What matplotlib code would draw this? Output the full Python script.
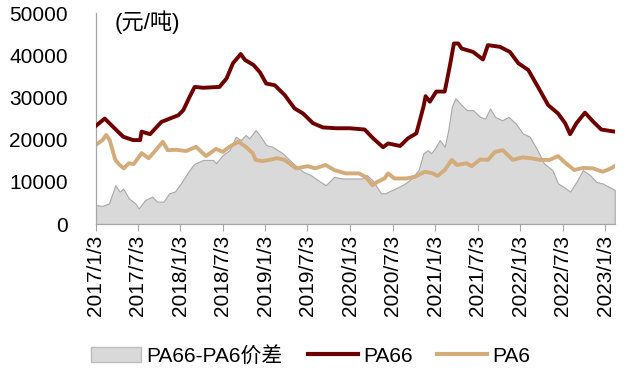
import pandas as pd
import matplotlib
matplotlib.use("Agg")
import matplotlib.pyplot as plt
from matplotlib.patches import Patch
from matplotlib.lines import Line2D

plt.rcParams["font.family"] = ["Liberation Sans", "Noto Sans CJK SC"]

# Months after 2017/1/3 and prices (元/吨)
pa66_m = [0, 1.3, 2.5, 3.9, 5.3, 6.3, 6.5, 7.7, 9.3, 10.5, 11.7, 12.4, 13.3, 14, 15.2,
          17.5, 18.5, 19.4, 20.5, 21.1, 22.3, 23.2, 24.1, 25.3, 26.7, 28.1, 29.3, 30.7,
          32.1, 34, 35.9, 38, 39.2, 40.6, 41.3, 43, 44.1, 45.3, 46.3, 46.6, 47.2, 48.1,
          49.3, 50, 50.6, 51.2, 51.7, 53.3, 54.7, 55.4, 57.1, 58.5, 59.7, 61.1, 62.7,
          63.9, 65.3, 66.3, 67, 67.9, 69.1, 70.3, 71.4, 73.3]
pa66 = [23200, 25000, 23000, 20700, 19900, 19900, 21900, 21300, 24200, 25000, 25800,
        27000, 30200, 32500, 32300, 32500, 34500, 38100, 40300, 38900, 37700, 36000,
        33300, 32900, 30600, 27400, 26200, 23900, 22900, 22700, 22700, 22400, 20300,
        18200, 19100, 18500, 20300, 21500, 27800, 30300, 29000, 31400, 31400, 37300,
        42800, 42800, 41600, 40800, 39000, 42400, 42000, 40800, 38100, 36500, 31800,
        28200, 26200, 23900, 21300, 23900, 26400, 24200, 22400, 21900]

pa6_m = [0, 1, 1.5, 2, 2.8, 3.4, 4, 4.7, 5.4, 6.5, 7.5, 8.3, 9.5, 10.2, 11.4, 12.8,
         14.2, 15.6, 17, 18, 18.9, 20.2, 21.2, 22.2, 22.6, 23.6, 24.5, 25.6, 26.7,
         28.3, 30, 31, 32.5, 33.7, 35.3, 37.2, 38.1, 39.1, 39.8, 40.8, 41.3, 42.2,
         43.9, 45.1, 46.5, 47.6, 48.3, 49.3, 50.3, 51, 52.4, 53.1, 54.3, 55.4, 56.4,
         57.5, 58.9, 60.3, 61.5, 62.7, 64.1, 65.3, 66.4, 67.6, 68.8, 70.2, 71.6, 72.5,
         73.3]
pa6 = [18700, 19900, 21100, 19900, 15200, 14000, 13200, 14400, 14200, 16800, 15600,
       17100, 19500, 17500, 17600, 17300, 18300, 16100, 17800, 17100, 18300, 19500,
       18300, 16800, 15200, 14900, 15200, 15600, 15200, 13200, 13700, 13200, 14000,
       12800, 12000, 12000, 11200, 9200, 10000, 10800, 12000, 10800, 10800, 11200,
       12400, 12000, 11400, 12800, 15200, 14000, 14400, 13700, 15300, 15200, 17100,
       17500, 15200, 15800, 15600, 15200, 15200, 16100, 14400, 12800, 13300, 13200,
       12400, 13000, 13700]

spread_m = [0, 1, 1.9, 2.8, 3.4, 3.9, 4.7, 5.6, 6.1, 7, 8, 8.7, 9.6, 10.4, 11.2, 12.2,
            13.1, 13.9, 15.2, 16.6, 17, 18, 18.9, 19.8, 20.5, 21.2, 21.7, 22.6, 23.2,
            24.1, 25, 26.4, 27.9, 29.3, 30.4, 31.4, 32.5, 33.7, 34.8, 36.2, 37.6, 38.3,
            39.1, 40.3, 40.9, 41.8, 42.8, 43.7, 44.6, 45.6, 46.3, 46.9, 47.4, 47.9,
            48.6, 49.3, 49.8, 50.3, 50.8, 51.7, 52.4, 53.3, 54.3, 55, 55.7, 56.4, 57.4,
            58.3, 59.3, 60.3, 61.3, 62.4, 63.3, 64.5, 65.3, 66.1, 67, 67.9, 68.8, 69.8,
            70.7, 71.6, 72.5, 73.3]
spread = [4500, 4300, 4900, 9200, 7700, 8400, 6100, 4900, 3700, 5700, 6500, 5300, 5300,
          7300, 7700, 10000, 12400, 14200, 15200, 15200, 14400, 16400, 17500, 20700,
          19900, 21100, 20300, 22300, 21000, 18700, 18300, 16800, 14400, 12400, 11600,
          10400, 9200, 11200, 10800, 10800, 10800, 11600, 10400, 7300, 7300, 8000, 8800,
          9600, 10800, 12800, 16800, 17500, 16800, 17900, 19900, 18300, 22300, 27800,
          29800, 28200, 27000, 27000, 25400, 25000, 27400, 25400, 24600, 25400, 23900,
          21500, 20700, 17500, 14400, 12800, 9600, 8800, 7700, 10000, 12800, 11600,
          10000, 9600, 8800, 8100]

tick_dates = ["2017/1/3", "2017/7/3", "2018/1/3", "2018/7/3", "2019/1/3", "2019/7/3",
              "2020/1/3", "2020/7/3", "2021/1/3", "2021/7/3", "2022/1/3", "2022/7/3",
              "2023/1/3"]

start = pd.Timestamp("2017-01-03")


def to_dates(months):
    return [start + pd.Timedelta(days=m * 30.44) for m in months]


c_spread = "#D9D9D9"
c_pa66 = "#6E0000"
c_pa6 = "#D3AC7A"

fig = plt.figure(figsize=(6.41, 3.74), dpi=100)
ax = fig.add_axes([0.149, 0.401, 0.810, 0.564])

ax.fill_between(to_dates(spread_m), spread, 0, facecolor=c_spread,
                edgecolor="#A8A8A8", linewidth=0.8, zorder=1)
ax.plot(to_dates(pa66_m), pa66, color=c_pa66, linewidth=2.8, zorder=3)
ax.plot(to_dates(pa6_m), pa6, color=c_pa6, linewidth=2.8, zorder=2)

ax.set_ylim(0, 50000)
ax.set_yticks(range(0, 50001, 10000))
ax.set_xlim(start, to_dates([73.3])[0])
ticks = [pd.Timestamp(d.replace("/", "-")) for d in tick_dates]
ax.set_xticks(ticks)
ax.set_xticklabels(tick_dates, rotation=90)

for s in ["top", "right"]:
    ax.spines[s].set_visible(False)
for s in ["left", "bottom"]:
    ax.spines[s].set_color("#A6A6A6")
    ax.spines[s].set_linewidth(0.9)
ax.tick_params(axis="y", length=0, labelsize=15, pad=20)
ax.tick_params(axis="x", length=5, color="#A6A6A6", labelsize=15, pad=3)

ax.text(0.037, 0.957, "(元/吨)", transform=ax.transAxes, fontsize=16,
        ha="left", va="center")

handles = [Patch(facecolor=c_spread, edgecolor="#BDBDBD"),
           Line2D([], [], color=c_pa66, linewidth=3),
           Line2D([], [], color=c_pa6, linewidth=3)]
fig.legend(handles, ["PA66-PA6价差", "PA66", "PA6"], loc="center",
           bbox_to_anchor=(0.485, 0.049), ncol=3, frameon=False, fontsize=15,
           handlelength=2.4, handletextpad=0.25, columnspacing=1.2)

fig.savefig("out.png", dpi=100)
